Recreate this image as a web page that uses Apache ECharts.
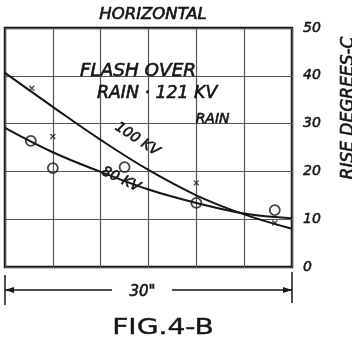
<!DOCTYPE html>
<html><head><meta charset="utf-8">
<script src="https://cdn.jsdelivr.net/npm/echarts@6/dist/echarts.min.js"></script>
<style>html,body{margin:0;background:#fff}#c{width:352px;height:344px}</style>
</head><body><div id="c"></div>
<script>
// Temperature rise vs. span position, horizontal mounting
const spanInches = [0, 5, 10, 15, 20, 25, 30];
const curve100kv = [40.6, 33.5, 26.6, 20.3, 15.0, 11.0, 8.0];
const curve80kv = [29.1, 24.0, 19.9, 16.2, 13.4, 11.2, 10.2];
const circleX = [2.7, 5, 12.5, 20, 28.2];
const circleY = [26.4, 20.7, 20.9, 13.4, 11.9];
const crossX = [2.8, 5, 20, 28.2];
const crossY = [37.4, 27.3, 17.6, 9.2];
const riseTicks = [0, 10, 20, 30, 40, 50];

const ink = '#151515';
const f = s => 'italic ' + s + 'px "DejaVu Sans"';

const chart = echarts.init(document.getElementById('c'), null, {renderer: 'canvas'});
chart.setOption({
  backgroundColor: '#fff',
  animation: false,
  grid: {left: 5, right: 60, top: 28, bottom: 77, show: true, borderColor: ink, borderWidth: 2.5, backgroundColor: 'transparent'},
  xAxis: {
    type: 'value', min: spanInches[0], max: spanInches[spanInches.length - 1], interval: 5,
    axisLabel: {show: false}, axisTick: {show: false},
    axisLine: {show: false},
    splitLine: {show: true, lineStyle: {color: '#555', width: 1.2}}
  },
  yAxis: {
    type: 'value', position: 'right', min: riseTicks[0], max: riseTicks[riseTicks.length - 1], interval: 10,
    axisLine: {show: false}, axisTick: {show: false},
    axisLabel: {show: true, margin: 11, color: ink, fontStyle: 'italic', fontFamily: 'DejaVu Sans', fontSize: 14,
      textBorderColor: ink, textBorderWidth: 0.5,
      formatter: v => riseTicks.includes(v) ? String(v) : ''},
    splitLine: {show: true, lineStyle: {color: '#555', width: 1.2}}
  },
  series: [
    {type: 'line', smooth: 0.4, symbol: 'none', lineStyle: {color: ink, width: 2},
      data: spanInches.map((x, i) => [x, curve100kv[i]])},
    {type: 'line', smooth: 0.4, symbol: 'none', lineStyle: {color: ink, width: 2},
      data: spanInches.map((x, i) => [x, curve80kv[i]])},
    {type: 'scatter', symbol: 'circle', symbolSize: 10,
      itemStyle: {color: 'rgba(0,0,0,0)', borderColor: ink, borderWidth: 1.8},
      data: circleX.map((x, i) => [x, circleY[i]])},
    {type: 'scatter', symbol: 'path://M0,0L10,10M10,0L0,10', symbolSize: 5,
      itemStyle: {color: 'rgba(0,0,0,0)', borderColor: ink, borderWidth: 1.3},
      data: crossX.map((x, i) => [x, crossY[i]])}
  ]
});

const px = (x, y) => chart.convertToPixel({gridIndex: 0}, [x, y]);
const x0 = px(0, 0), x1 = px(30, 0);
const dimY = x0[1] + 23;

// hand-lettered look: regular oblique face with a thin outline
function txt(text, x, y, size, rot, sx) {
  return {type: 'text', x, y, rotation: rot || 0, scaleX: sx || 1,
    style: {text, font: f(size), fill: ink, stroke: ink, lineWidth: 0.6, align: 'center', verticalAlign: 'middle'}};
}
function label(text, at, size, rot, sx) {
  const p = px(at[0], at[1]);
  return txt(text, p[0], p[1], size, rot, sx);
}

chart.setOption({
  graphic: [
    txt('HORIZONTAL', 153, 15, 15, 0, 1.1),
    label('FLASH OVER', [13.9, 40.8], 17, 0, 1.08),
    label('RAIN · 121 KV', [15.9, 36.2], 17, 0, 1.02),
    label('RAIN', [21.7, 30.9], 14),
    label('100 KV', [13.8, 26.7], 14, -0.58),
    label('80 KV', [12.1, 18.3], 14, -0.45),
    txt('RISE DEGREES-C', 349, 108, 17, Math.PI / 2),
    // span dimension line
    {type: 'line', shape: {x1: x0[0], y1: dimY - 15, x2: x0[0], y2: dimY + 15}, style: {stroke: ink, lineWidth: 1.5}},
    {type: 'line', shape: {x1: x1[0], y1: dimY - 18, x2: x1[0], y2: dimY + 13}, style: {stroke: ink, lineWidth: 1.5}},
    {type: 'line', shape: {x1: x0[0], y1: dimY, x2: 112, y2: dimY}, style: {stroke: ink, lineWidth: 1.3}},
    {type: 'line', shape: {x1: 172, y1: dimY, x2: x1[0], y2: dimY}, style: {stroke: ink, lineWidth: 1.3}},
    {type: 'polygon', shape: {points: [[x0[0], dimY], [x0[0] + 9, dimY - 3], [x0[0] + 9, dimY + 3]]}, style: {fill: ink}},
    {type: 'polygon', shape: {points: [[x1[0], dimY], [x1[0] - 9, dimY - 3], [x1[0] - 9, dimY + 3]]}, style: {fill: ink}},
    txt('30"', (x0[0] + x1[0]) / 2 - 6, dimY + 2, 15),
    {type: 'text', x: 163, y: 328, scaleX: 1.28, style: {text: 'FIG.4-B', font: '22px "DejaVu Sans"', fill: ink, stroke: ink, lineWidth: 0.4, align: 'center', verticalAlign: 'middle'}}
  ]
});
</script>
</body></html>
